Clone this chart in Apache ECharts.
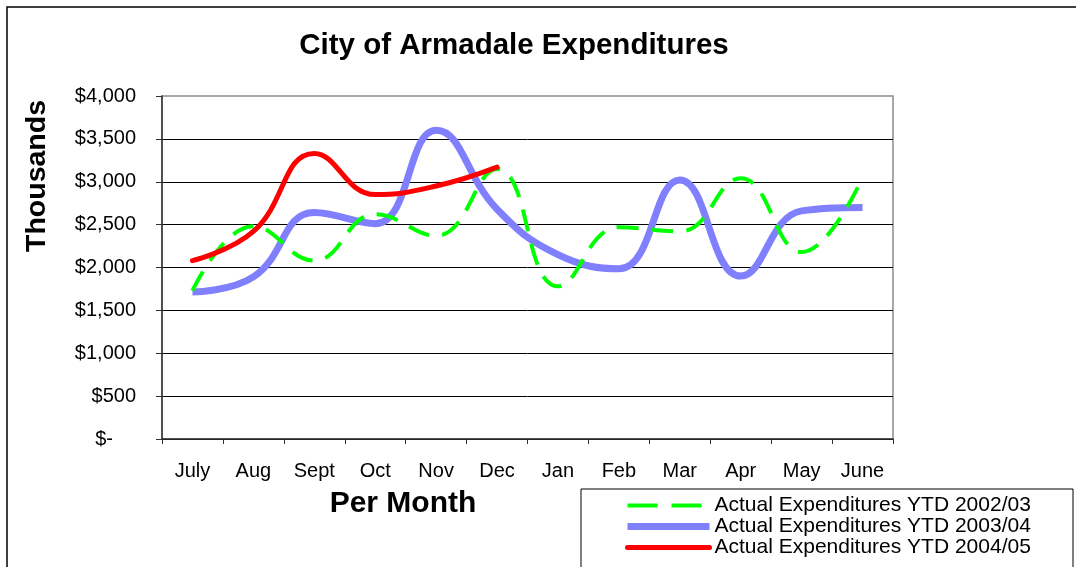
<!DOCTYPE html>
<html>
<head>
<meta charset="utf-8">
<script src="https://cdn.jsdelivr.net/npm/echarts@6/dist/echarts.min.js"></script>
<style>
  html, body { margin: 0; padding: 0; background: #fff; }
  #chart { width: 1076px; height: 567px; }
</style>
</head>
<body>
<div id="chart"></div>
<script>
const months = ['July', 'Aug', 'Sept', 'Oct', 'Nov', 'Dec', 'Jan', 'Feb', 'Mar', 'Apr', 'May', 'June']
const ytd0203 = [1730, 2480, 2080, 2620, 2370, 3150, 1780, 2470, 2420, 3040, 2180, 3050]
const ytd0304 = [1715, 1890, 2640, 2510, 3600, 2680, 2150, 1985, 3020, 1900, 2660, 2700]
const ytd0405 = [2080, 2420, 3330, 2850, 2950, 3170]
const seriesNames = [
  'Actual Expenditures YTD 2002/03',
  'Actual Expenditures YTD 2003/04',
  'Actual Expenditures YTD 2004/05'
]

const font = 'Arial, "Liberation Sans", sans-serif'
const chart = echarts.init(document.getElementById('chart'))

// accounting style: zero shows as "$-" pushed in from the right
const money = (v) => {
  if (v === 0) return '{z|$-}'
  return '$' + v.toLocaleString('en-US')
}

chart.setOption({
  animation: false,
  backgroundColor: '#fff',
  textStyle: { fontFamily: font },
  title: {
    text: 'City of Armadale Expenditures',
    left: 509,
    top: 26,
    textAlign: 'center',
    textStyle: { fontSize: 29.5, fontWeight: 'bold', color: '#000', fontFamily: font }
  },
  graphic: [
    {
      type: 'rect',
      shape: { x: 7, y: 7, width: 1100, height: 620 },
      style: { fill: 'none', stroke: '#000', lineWidth: 1.5 },
      silent: true
    },
    {
      type: 'rect',
      shape: { x: 581, y: 489, width: 492, height: 120 },
      style: { fill: '#fff', stroke: '#000', lineWidth: 1 },
      silent: true,
      z: 1
    },
    {
      type: 'text',
      x: 37,
      y: 176,
      rotation: Math.PI / 2,
      style: {
        text: 'Thousands',
        fontSize: 28.5,
        fontWeight: 'bold',
        fontFamily: font,
        fill: '#000',
        align: 'center',
        verticalAlign: 'middle'
      }
    },
    {
      type: 'text',
      x: 403,
      y: 504,
      style: {
        text: 'Per Month',
        fontSize: 30,
        fontWeight: 'bold',
        fontFamily: font,
        fill: '#000',
        align: 'center',
        verticalAlign: 'middle'
      }
    }
  ],
  grid: {
    left: 162,
    right: 183,
    top: 96,
    bottom: 128,
    show: true,
    backgroundColor: '#fff',
    borderColor: '#8c8c8c',
    borderWidth: 1.5
  },
  legend: {
    orient: 'vertical',
    left: 624,
    top: 495,
    padding: 0,
    itemWidth: 82,
    itemHeight: 14,
    itemGap: 0,
    z: 5,
    itemStyle: { opacity: 0 },
    data: [
      { name: seriesNames[0], lineStyle: { width: 4, type: [30, 14], color: '#00ff00' } },
      { name: seriesNames[1], lineStyle: { width: 7, color: '#8080ff' } },
      { name: seriesNames[2], lineStyle: { width: 5, color: '#ff0000', cap: 'round' } }
    ],
    textStyle: { fontSize: 21, color: '#000', fontFamily: font, lineHeight: 20.5 }
  },
  xAxis: {
    type: 'category',
    data: months,
    boundaryGap: true,
    axisLine: { lineStyle: { color: '#333', width: 1.5 } },
    axisTick: { show: true, length: 5, lineStyle: { color: '#333' } },
    axisLabel: { color: '#000', fontSize: 20, margin: 22, fontFamily: font },
    splitLine: { show: false }
  },
  yAxis: {
    type: 'value',
    min: 0,
    max: 4000,
    interval: 500,
    axisLine: { show: true, lineStyle: { color: '#333', width: 1.5 } },
    axisTick: { show: true, length: 6, lineStyle: { color: '#333' } },
    axisLabel: {
      color: '#000',
      fontSize: 20,
      margin: 26,
      fontFamily: font,
      formatter: money,
      rich: { z: { fontSize: 20, color: '#000', fontFamily: font, padding: [0, 23, 0, 0] } }
    },
    splitLine: { show: true, showMaxLine: false, lineStyle: { color: '#000', width: 1 } }
  },
  series: [
    {
      name: seriesNames[0],
      type: 'line',
      data: ytd0203,
      smooth: 0.45,
      symbol: 'none',
      color: '#00ff00',
      lineStyle: { color: '#00ff00', width: 4, type: [22, 13] },
      z: 3
    },
    {
      name: seriesNames[1],
      type: 'line',
      data: ytd0304,
      smooth: 0.45,
      symbol: 'none',
      color: '#8080ff',
      lineStyle: { color: '#8080ff', width: 7 },
      z: 2
    },
    {
      name: seriesNames[2],
      type: 'line',
      data: ytd0405,
      smooth: 0.45,
      symbol: 'none',
      color: '#ff0000',
      lineStyle: { color: '#ff0000', width: 5, cap: 'round' },
      z: 4
    }
  ]
})
</script>
</body>
</html>
